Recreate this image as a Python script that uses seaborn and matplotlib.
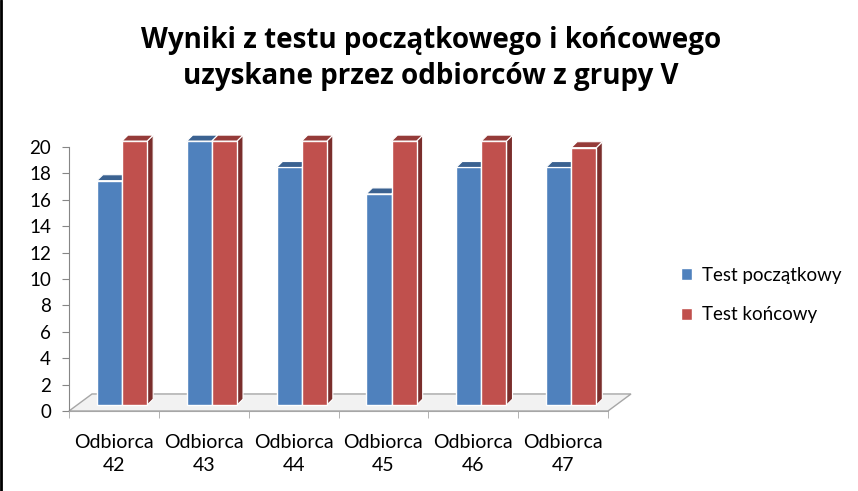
import matplotlib
matplotlib.use("Agg")
import matplotlib.pyplot as plt
from matplotlib.patches import Polygon
from matplotlib.lines import Line2D
import pandas as pd
import seaborn as sns

# values
categories = ["Odbiorca\n42", "Odbiorca\n43", "Odbiorca\n44",
              "Odbiorca\n45", "Odbiorca\n46", "Odbiorca\n47"]
series = ["Test początkowy", "Test końcowy"]
test_start = [17, 20, 18, 16, 18, 18]
test_end = [20, 20, 20, 20, 20, 19.5]
y_ticks = list(range(0, 21, 2))

df = pd.DataFrame({
    "odbiorca": categories * 2,
    "wynik": test_start + test_end,
    "test": [series[0]] * len(categories) + [series[1]] * len(categories),
})

front_colors = ["#4F81BD", "#C0504D"]
top_colors = ["#3B6291", "#953B39"]
side_colors = ["#2F4F75", "#7A2E2C"]

sns.set_style("white")
plt.rcParams["font.family"] = ["Lato", "DejaVu Sans"]
plt.rcParams["text.color"] = "black"
plt.rcParams["xtick.labelcolor"] = "black"
plt.rcParams["ytick.labelcolor"] = "black"

fig = plt.figure(figsize=(8.58, 4.91), dpi=100)
ax = fig.add_axes([69 / 858, 80 / 491, 539 / 858, 264 / 491])

sns.barplot(data=df, x="odbiorca", y="wynik", hue="test", palette=front_colors,
            saturation=1, width=0.56, edgecolor="white", linewidth=1,
            legend=True, ax=ax)

ax.set_xlim(-0.5, len(categories) - 0.5)
ax.set_ylim(0, 20)

# pseudo-3D geometry (data units)
lift = 0.45      # bar front bottom sits above the floor front edge
shift = 0.09     # bars sit in the middle of the floor depth
dx_top, dy_top = 0.067, 0.45
floor_dx, floor_dy = 0.256, 1.29

# floor
x0, x1 = -0.5, len(categories) - 0.5
floor = Polygon([(x0, 0), (x1, 0), (x1 + floor_dx, floor_dy), (x0 + floor_dx, floor_dy)],
                closed=True, facecolor="#F2F2F2", edgecolor="#A6A6A6",
                linewidth=1, clip_on=False, zorder=0.5)
ax.add_patch(floor)

n = len(categories)
for s, container in enumerate(ax.containers[:2]):
    for i, p in enumerate(container.patches):
        p.set_x(p.get_x() + shift)
        p.set_y(lift)
        p.set_clip_on(False)
        z = 2 + i * 2 + s
        p.set_zorder(z)
        xl = p.get_x()
        w = p.get_width()
        yt = lift + p.get_height()
        top = Polygon([(xl, yt), (xl + w, yt), (xl + w + dx_top, yt + dy_top), (xl + dx_top, yt + dy_top)],
                      closed=True, facecolor=top_colors[s], edgecolor="white", linewidth=0.8,
                      clip_on=False, zorder=z)
        side = Polygon([(xl + w, lift), (xl + w + dx_top, lift + dy_top),
                        (xl + w + dx_top, yt + dy_top), (xl + w, yt)],
                       closed=True, facecolor=side_colors[s], edgecolor="white", linewidth=0.8,
                       clip_on=False, zorder=z - 0.1)
        ax.add_patch(side)
        ax.add_patch(top)

# axes styling
for sp in ["top", "right"]:
    ax.spines[sp].set_visible(False)
ax.spines["left"].set_color("#868686")
ax.spines["bottom"].set_color("#A6A6A6")
ax.set_yticks(y_ticks)
ax.set_xticks(range(n))
ax.set_xticklabels(categories, linespacing=1.4)
ax.set_xticks([k - 0.5 for k in range(n + 1)], minor=True)
ax.tick_params(axis="y", left=True, length=5, color="#868686", labelsize=13.5, pad=8)
ax.tick_params(axis="x", which="major", bottom=False, labelsize=14, pad=13)
ax.tick_params(axis="x", which="minor", bottom=True, length=5, color="#A6A6A6")
ax.set_xlabel("")
ax.set_ylabel("")
ax.grid(False)

handles, labels = ax.get_legend_handles_labels()
if ax.get_legend() is not None:
    ax.get_legend().remove()
fig.legend(handles, labels, loc="center left", bbox_to_anchor=(664 / 858, 196 / 491),
           frameon=False, fontsize=13.5, handlelength=0.6, handleheight=0.6,
           handletextpad=0.5, labelspacing=1.2)

fig.text(0.502, 0.881, "Wyniki z testu początkowego i końcowego\nuzyskane przez odbiorców z grupy V",
         ha="center", va="center", fontsize=20, fontweight="bold", linespacing=1.33,
         family=["Open Sans", "DejaVu Sans"])

fig.add_artist(Line2D([0.001, 0.001], [0, 1], color="black", linewidth=2, transform=fig.transFigure))

fig.savefig("out.png", dpi=100)
